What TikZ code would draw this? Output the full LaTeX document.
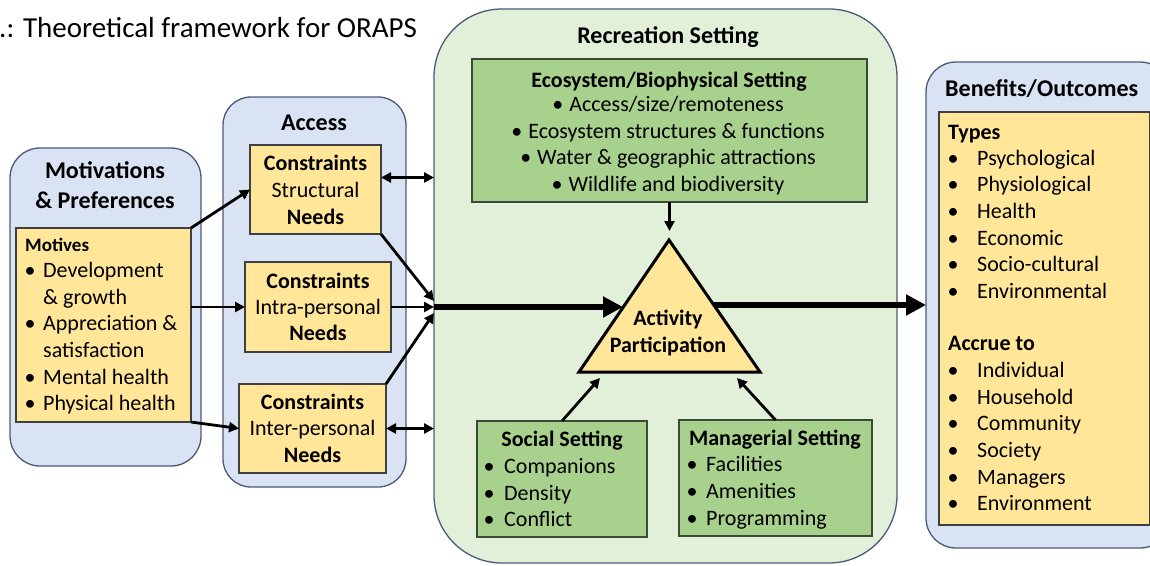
\documentclass[tikz,border=0pt]{standalone}
\usepackage{fontspec}
\setmainfont{Carlito}
\usetikzlibrary{arrows.meta}
\definecolor{bfill}{HTML}{DAE3F3}
\definecolor{bline}{HTML}{4A5A78}
\definecolor{yfill}{HTML}{FFE699}
\definecolor{yline}{HTML}{3F3F3F}
\definecolor{gfill}{HTML}{E2F0D9}
\definecolor{dgfill}{HTML}{A9D18E}
\definecolor{dgline}{HTML}{3B4A36}
\begin{document}
\begin{tikzpicture}[x=1pt,y=-1pt,
  rbox/.style={draw=bline, line width=1.3pt, inner sep=0pt, outer sep=0pt},
  ybox/.style={draw=yline, fill=yfill, line width=1.2pt, inner sep=0pt, outer sep=0pt},
  gbox/.style={draw=dgline, fill=dgfill, line width=1.5pt, inner sep=0pt, outer sep=0pt},
  t/.style={inner sep=0pt, font=\fontsize{22}{26}\selectfont},
  tb/.style={inner sep=0pt, font=\fontsize{22}{26}\selectfont\bfseries},
  th/.style={inner sep=0pt, font=\fontsize{24}{29}\selectfont\bfseries},
  thin/.style={line width=2.8pt, -{Triangle[length=10pt,width=10pt]}},
  dbl/.style={line width=2.5pt, {Triangle[length=10pt,width=10pt]}-{Triangle[length=10pt,width=10pt]}},
  thick/.style={line width=5.5pt, -{Triangle[length=20pt,width=20pt]}},
]
\useasboundingbox (0,0) rectangle (1150,565);
\clip (0,0) rectangle (1150,565);
\fill[white] (0,0) rectangle (1150,565);

% title
\node[anchor=base west, inner sep=0pt, font=\fontsize{29}{31}\selectfont] (title) at (-1,37) {.: Theoretical framework for ORAPS};

% boxes
\node[rbox, fill=bfill, rounded corners=30pt, minimum width=191pt, minimum height=318pt] (motiv) at (105.5,307) {};
\node[ybox, minimum width=175pt, minimum height=194pt] (motives) at (103.5,325) {};
\node[rbox, fill=bfill, rounded corners=28pt, minimum width=183pt, minimum height=390pt] (access) at (314.5,292) {};
\node[ybox, minimum width=131pt, minimum height=89pt] (struct) at (315.5,189.5) {};
\node[ybox, minimum width=146pt, minimum height=90pt] (intra) at (318,307) {};
\node[ybox, minimum width=147pt, minimum height=89pt] (inter) at (312.5,428.5) {};
\node[rbox, fill=gfill, rounded corners=68pt, minimum width=463pt, minimum height=554pt] (rec) at (665.5,286) {};
\node[gbox, minimum width=395pt, minimum height=143pt] (eco) at (669.5,130.5) {};
\node[gbox, minimum width=170pt, minimum height=116pt] (soc) at (562,479) {};
\node[gbox, minimum width=193pt, minimum height=116pt] (mgr) at (775.5,478) {};
\node[rbox, fill=bfill, rounded corners=30pt, minimum width=244pt, minimum height=486pt] (ben) at (1048,305) {};
\node[ybox, minimum width=211pt, minimum height=413pt] (benin) at (1044.5,318.5) {};

% triangle
\coordinate (tA) at (669,240);
\coordinate (tBL) at (579,372);
\coordinate (tBR) at (760,372);
\draw[line width=3pt, fill=yfill, line join=miter] (tA) -- (tBL) -- (tBR) -- cycle;
\node[tb, anchor=base] (act1) at (668,325) {Activity};
\node[tb, anchor=base] (act2) at (668,352) {Participation};

% Motivations
\node[th, anchor=base] (mh1) at (105,178) {Motivations};
\node[th, anchor=base] (mh2) at (105,208) {\& Preferences};
\node[anchor=base west, inner sep=0pt, font=\fontsize{19}{22}\selectfont\bfseries] (mt) at (25,251) {Motives};
\foreach \s/\y [count=\i] in {{Development}/277, {Appreciation \&}/330, {Mental health}/384, {Physical health}/410}{
  \node[t, anchor=base west] (mb\i) at (24.5,\y) {•};
  \node[t, anchor=base west] (mi\i) at (43,\y) {\s};
}
\node[t, anchor=base west] (mc1) at (43,304) {\& growth};
\node[t, anchor=base west] (mc2) at (43,357) {satisfaction};

% Access
\node[th, anchor=base] (ah) at (314,130) {Access};
\node[tb, anchor=base] (s1t) at (315.5,170) {Constraints};
\node[t, anchor=base] (s2t) at (315.5,197) {Structural};
\node[tb, anchor=base] (s3t) at (315.5,224) {Needs};
\node[tb, anchor=base] (i1t) at (318,288) {Constraints};
\node[t, anchor=base] (i2t) at (318,314) {Intra-personal};
\node[tb, anchor=base] (i3t) at (318,340) {Needs};
\node[tb, anchor=base] (n1t) at (312.5,409) {Constraints};
\node[t, anchor=base] (n2t) at (312.5,435) {Inter-personal};
\node[tb, anchor=base] (n3t) at (312.5,462) {Needs};

% Recreation
\node[th, anchor=base] (rh) at (668,43) {Recreation Setting};
\node[tb, anchor=base] (eh) at (669,87) {Ecosystem/Biophysical Setting};
\foreach \s/\y [count=\i] in {{Access/size/remoteness}/111, {Ecosystem structures \& functions}/138, {Water \& geographic attractions}/164, {Wildlife and biodiversity}/191}{
  \node[t, anchor=base] (ei\i) at (668,\y) {•\hspace{6pt}\s};
}
\node[tb, anchor=base] (sh) at (562,446) {Social Setting};
\foreach \s/\y [count=\i] in {{Companions}/473, {Density}/500, {Conflict}/526}{
  \node[t, anchor=base west] (sb\i) at (483.5,\y) {•};
  \node[t, anchor=base west] (si\i) at (504,\y) {\s};
}
\node[tb, anchor=base] (gh) at (775,445) {Managerial Setting};
\foreach \s/\y [count=\i] in {{Facilities}/471, {Amenities}/498, {Programming}/525}{
  \node[t, anchor=base west] (gb\i) at (686.5,\y) {•};
  \node[t, anchor=base west] (gi\i) at (706,\y) {\s};
}

% Benefits
\node[th, anchor=base west] (bh) at (945,96) {Benefits/Outcomes};
\node[tb, anchor=base west] (bty) at (948,139) {Types};
\foreach \s/\y [count=\i] in {{Psychological}/165, {Physiological}/191, {Health}/218, {Economic}/245, {Socio-cultural}/271, {Environmental}/298}{
  \node[t, anchor=base west] (tb\i) at (947.5,\y) {•};
  \node[t, anchor=base west] (ti\i) at (977,\y) {\s};
}
\node[tb, anchor=base west] (bac) at (948,350) {Accrue to};
\foreach \s/\y [count=\i] in {{Individual}/377, {Household}/404, {Community}/430, {Society}/457, {Managers}/484, {Environment}/510}{
  \node[t, anchor=base west] (ab\i) at (947.5,\y) {•};
  \node[t, anchor=base west] (ai\i) at (977,\y) {\s};
}

% connectors
\draw[thin] (motives.north east) -- (struct.west);
\draw[thin] (motives.east |- intra.west) -- (intra.west);
\draw[thin] (motives.south east) -- (inter.west);
\coordinate (j) at (rec.west |- intra.west);
\coordinate (j1) at ([yshift=6pt]j);
\coordinate (j3) at ([yshift=-6pt]j);
\draw[thin] (struct.south east) -- (j1);
\draw[thin] (intra.east) -- (j);
\draw[thin] (inter.north east) -- (j3);
\coordinate (sd) at ([yshift=12pt]struct.east);
\draw[dbl] (sd) -- (sd -| rec.west);
\draw[dbl] (inter.east) -- (inter.east -| rec.west);
\coordinate (tl) at (623,307);
\draw[thick] (j) -- (tl);
\coordinate (tr) at (714,305);
\draw[thick] (tr) -- (tr -| ben.west);
\coordinate (tTop) at (669.5,231);
\draw[thin] (eco.south) -- (tTop);
\coordinate (ts) at (600,378);
\draw[thin] (soc.north) -- (ts);
\coordinate (tm) at (737,378);
\draw[thin] (mgr.north) -- (tm);
\end{tikzpicture}
\end{document}
